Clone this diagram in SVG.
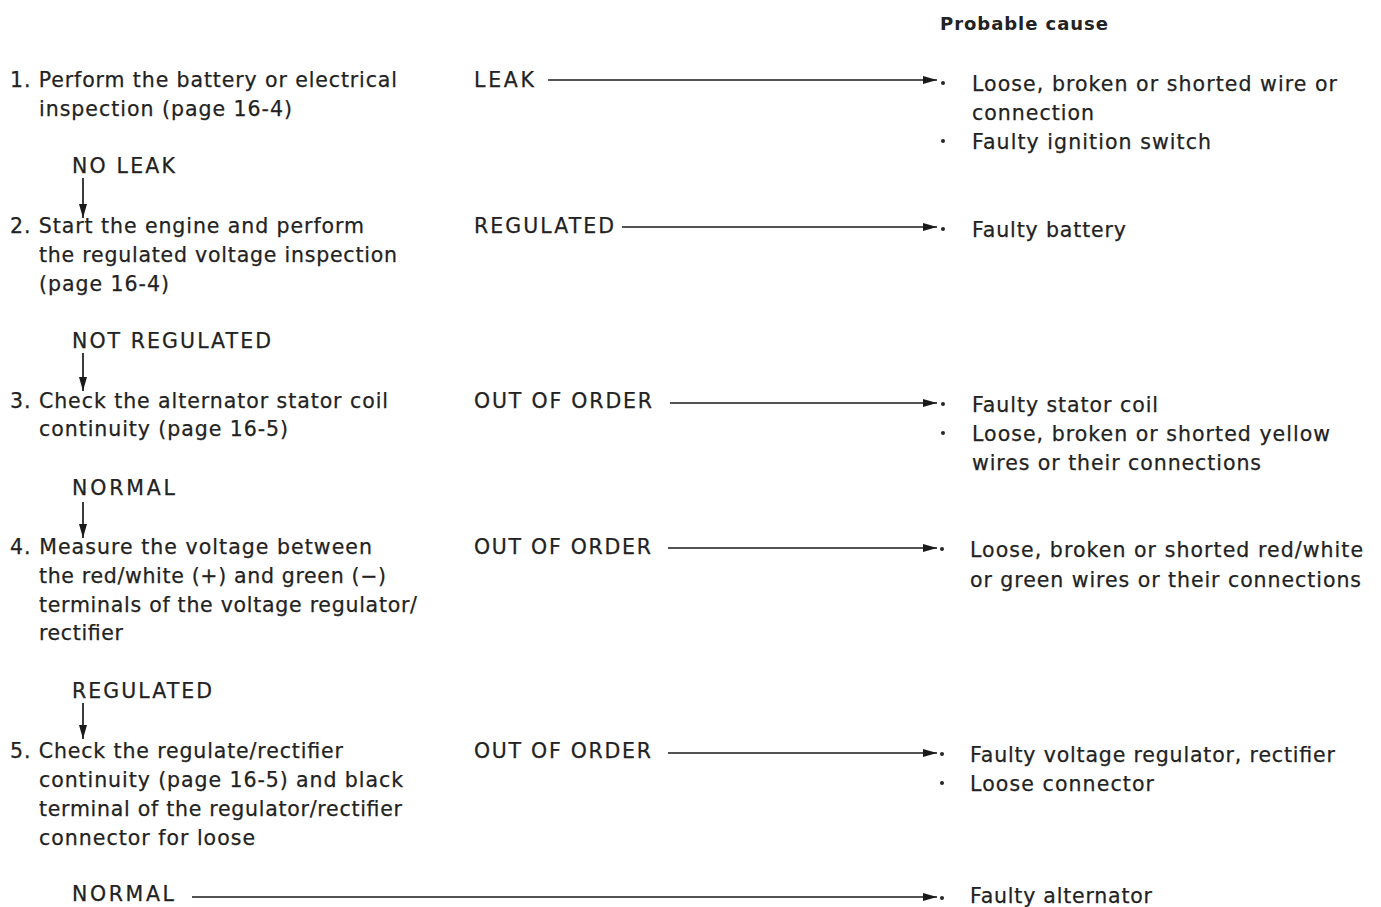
<svg xmlns="http://www.w3.org/2000/svg" width="1381" height="907" viewBox="0 0 1381 907">
<style>
text{font-family:"DejaVu Sans","Liberation Sans",sans-serif;font-size:20.5px;fill:#222;stroke:#222;stroke-width:0.25}
.h{font-weight:bold;font-size:18px;stroke-width:0}
.c{stroke:#1a1a1a;stroke-width:1.7;fill:none}
.b{fill:#262626}
</style>
<defs>
<marker id="ah" viewBox="0 0 14 8" markerWidth="14" markerHeight="8" refX="14" refY="4" orient="auto" markerUnits="userSpaceOnUse">
<path d="M0,0 L14,4 L0,8 Z" fill="#1a1a1a"/>
</marker>
</defs>
<rect width="1381" height="907" fill="#fff"/>

<g id="header"><text class="h" x="940" y="30" textLength="168">Probable cause</text></g>

<g id="step1">
<text x="10" y="87" textLength="387">1. Perform the battery or electrical</text>
<text x="39" y="116" textLength="253">inspection (page 16-4)</text>
</g>
<g id="label-noleak"><text x="72" y="173" textLength="103">NO LEAK</text></g>
<g id="step2">
<text x="10" y="233" textLength="354">2. Start the engine and perform</text>
<text x="39" y="262" textLength="358">the regulated voltage inspection</text>
<text x="39" y="291" textLength="130">(page 16-4)</text>
</g>
<g id="label-notregulated"><text x="72" y="348" textLength="199">NOT REGULATED</text></g>
<g id="step3">
<text x="10" y="408" textLength="378">3. Check the alternator stator coil</text>
<text x="39" y="436" textLength="249">continuity (page 16-5)</text>
</g>
<g id="label-normal1"><text x="72" y="495" textLength="103">NORMAL</text></g>
<g id="step4">
<text x="10" y="554" textLength="362">4. Measure the voltage between</text>
<text x="39" y="583" textLength="347">the red/white (+) and green (−)</text>
<text x="39" y="612" textLength="378">terminals of the voltage regulator/</text>
<text x="39" y="640" textLength="84">rectifier</text>
</g>
<g id="label-regulated2"><text x="72" y="698" textLength="140">REGULATED</text></g>
<g id="step5">
<text x="10" y="758" textLength="333">5. Check the regulate/rectifier</text>
<text x="39" y="787" textLength="364">continuity (page 16-5) and black</text>
<text x="39" y="816" textLength="363">terminal of the regulator/rectifier</text>
<text x="39" y="845" textLength="216">connector for loose</text>
</g>
<g id="label-normal2"><text x="72" y="901" textLength="102">NORMAL</text></g>

<g id="out-labels">
<text x="474" y="87" textLength="60">LEAK</text>
<text x="474" y="233" textLength="140">REGULATED</text>
<text x="474" y="408" textLength="178">OUT OF ORDER</text>
<text x="474" y="554" textLength="177">OUT OF ORDER</text>
<text x="474" y="758" textLength="177">OUT OF ORDER</text>
</g>

<g id="cause1">
<circle class="b" cx="943" cy="83" r="2"/>
<text x="972" y="91" textLength="365">Loose, broken or shorted wire or</text>
<text x="972" y="120" textLength="122">connection</text>
<circle class="b" cx="943" cy="141" r="2"/>
<text x="972" y="149" textLength="239">Faulty ignition switch</text>
</g>
<g id="cause2">
<circle class="b" cx="943" cy="229" r="2"/>
<text x="972" y="237" textLength="154">Faulty battery</text>
</g>
<g id="cause3">
<circle class="b" cx="943" cy="404" r="2"/>
<text x="972" y="412" textLength="186">Faulty stator coil</text>
<circle class="b" cx="943" cy="433" r="2"/>
<text x="972" y="441" textLength="358">Loose, broken or shorted yellow</text>
<text x="972" y="470" textLength="289">wires or their connections</text>
</g>
<g id="cause4">
<circle class="b" cx="942" cy="549" r="2"/>
<text x="970" y="557" textLength="393">Loose, broken or shorted red/white</text>
<text x="970" y="587" textLength="391">or green wires or their connections</text>
</g>
<g id="cause5">
<circle class="b" cx="942" cy="754" r="2"/>
<text x="970" y="762" textLength="365">Faulty voltage regulator, rectifier</text>
<circle class="b" cx="942" cy="783" r="2"/>
<text x="970" y="791" textLength="184">Loose connector</text>
</g>
<g id="cause6">
<circle class="b" cx="942" cy="898" r="2"/>
<text x="970" y="903" textLength="182">Faulty alternator</text>
</g>

<g id="connectors">
<line class="c" x1="83" y1="178" x2="83" y2="218" marker-end="url(#ah)"/>
<line class="c" x1="83" y1="353" x2="83" y2="391" marker-end="url(#ah)"/>
<line class="c" x1="83" y1="502" x2="83" y2="538" marker-end="url(#ah)"/>
<line class="c" x1="83" y1="703" x2="83" y2="739" marker-end="url(#ah)"/>
<line class="c" x1="548" y1="80" x2="937" y2="80" marker-end="url(#ah)"/>
<line class="c" x1="622" y1="227" x2="937" y2="227" marker-end="url(#ah)"/>
<line class="c" x1="670" y1="403" x2="937" y2="403" marker-end="url(#ah)"/>
<line class="c" x1="668" y1="548" x2="937" y2="548" marker-end="url(#ah)"/>
<line class="c" x1="668" y1="753" x2="937" y2="753" marker-end="url(#ah)"/>
<line class="c" x1="192" y1="897" x2="937" y2="897" marker-end="url(#ah)"/>
</g>
</svg>
